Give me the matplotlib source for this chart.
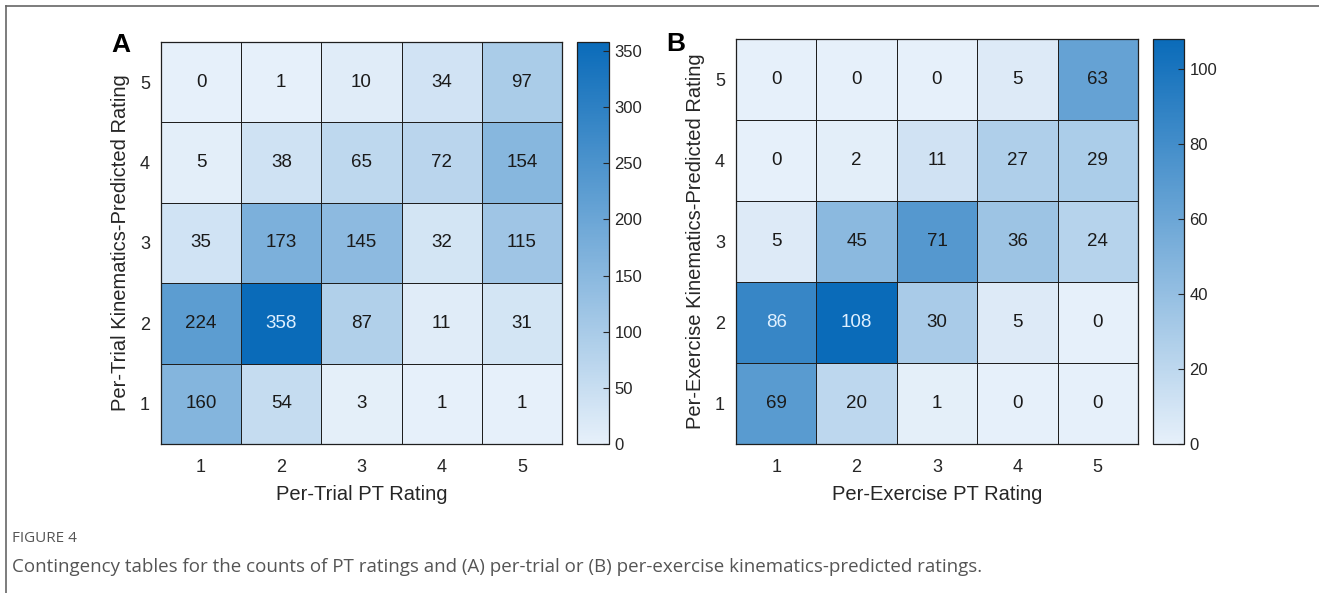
import numpy as np
import matplotlib
matplotlib.use("Agg")
import matplotlib.pyplot as plt
from matplotlib.colors import LinearSegmentedColormap
from matplotlib.lines import Line2D

plt.rcParams['font.family'] = ['Liberation Sans', 'DejaVu Sans']

# ratings on both axes
ratings = [1, 2, 3, 4, 5]

# rows listed top to bottom: predicted rating 5, 4, 3, 2, 1
# columns: PT rating 1..5
trial_counts = [
    [0, 1, 10, 34, 97],
    [5, 38, 65, 72, 154],
    [35, 173, 145, 32, 115],
    [224, 358, 87, 11, 31],
    [160, 54, 3, 1, 1],
]
exercise_counts = [
    [0, 0, 0, 5, 63],
    [0, 2, 11, 27, 29],
    [5, 45, 71, 36, 24],
    [86, 108, 30, 5, 0],
    [69, 20, 1, 0, 0],
]
trial_ticks = [0, 50, 100, 150, 200, 250, 300, 350]
exercise_ticks = [0, 20, 40, 60, 80, 100]

cmap = LinearSegmentedColormap.from_list("blues", ["#e6f0fa", "#0a6bb9"])
txt = "#262626"
W, H = 1319, 593


def draw_panel(ax, cax, counts, ticks, xlabel, ylabel):
    data = np.flipud(np.array(counts))  # row 0 -> rating 1
    vmax = data.max()
    edges = np.arange(0.5, 6.0, 1.0)
    mesh = ax.pcolormesh(edges, edges, data, cmap=cmap, vmin=0, vmax=vmax,
                         edgecolors="#1f1f1f", linewidth=0.7)
    for i, r in enumerate(ratings):
        for j, c in enumerate(ratings):
            v = data[i, j]
            col = "#dff0ff" if v / vmax > 0.72 else "#1a1a1a"
            ax.text(c, r, str(v), ha="center", va="center", fontsize=13.5, color=col)
    ax.set_xlim(0.5, 5.5)
    ax.set_ylim(0.5, 5.5)
    ax.set_xticks(ratings)
    ax.set_yticks(ratings)
    ax.tick_params(length=0, labelsize=13, colors=txt, pad=8)
    ax.tick_params(axis="x", pad=11)
    for s in ax.spines.values():
        s.set_color("#1f1f1f")
        s.set_linewidth(0.9)
    ax.set_xlabel(xlabel, fontsize=14.5, color=txt, labelpad=6)
    ax.set_ylabel(ylabel, fontsize=14.5, color=txt, labelpad=7)

    cb = plt.colorbar(mesh, cax=cax)
    cb.set_ticks(ticks)
    cb.ax.tick_params(labelsize=12, colors=txt, length=4, width=0.8, direction="in", pad=4)
    cb.outline.set_edgecolor("#1f1f1f")
    cb.outline.set_linewidth(0.9)


fig = plt.figure(figsize=(W / 100, H / 100), dpi=100)

ax_a = fig.add_axes([161 / W, 1 - 444 / H, 401 / W, 402 / H])
cax_a = fig.add_axes([577 / W, 1 - 444 / H, 32 / W, 402 / H])
ax_b = fig.add_axes([736 / W, 1 - 444 / H, 402 / W, 405 / H])
cax_b = fig.add_axes([1153 / W, 1 - 444 / H, 31 / W, 405 / H])

draw_panel(ax_a, cax_a, trial_counts, trial_ticks,
           "Per-Trial PT Rating", "Per-Trial Kinematics-Predicted Rating")
draw_panel(ax_b, cax_b, exercise_counts, exercise_ticks,
           "Per-Exercise PT Rating", "Per-Exercise Kinematics-Predicted Rating")

# panel letters
fig.text(111 / W, 1 - 45 / H, "A", fontsize=19, fontweight="bold", ha="left", va="center")
fig.text(666 / W, 1 - 44 / H, "B", fontsize=19, fontweight="bold", ha="left", va="center")

# frame lines and caption
fig.add_artist(Line2D([6 / W, 1], [1 - 6 / H, 1 - 6 / H], color="#666666", lw=1.2))
fig.add_artist(Line2D([6 / W, 6 / W], [0, 1 - 6 / H], color="#666666", lw=1.2))
fig.text(12 / W, 1 - 538 / H, "FIGURE 4", fontsize=11, color="#555555",
         family=["Open Sans", "DejaVu Sans"], va="center", ha="left")
fig.text(12 / W, 1 - 567 / H,
         "Contingency tables for the counts of PT ratings and (A) per-trial or (B) per-exercise kinematics-predicted ratings.",
         fontsize=13.5, color="#555555", family=["Open Sans", "DejaVu Sans"], va="center", ha="left")

fig.savefig("out.png", dpi=100)
